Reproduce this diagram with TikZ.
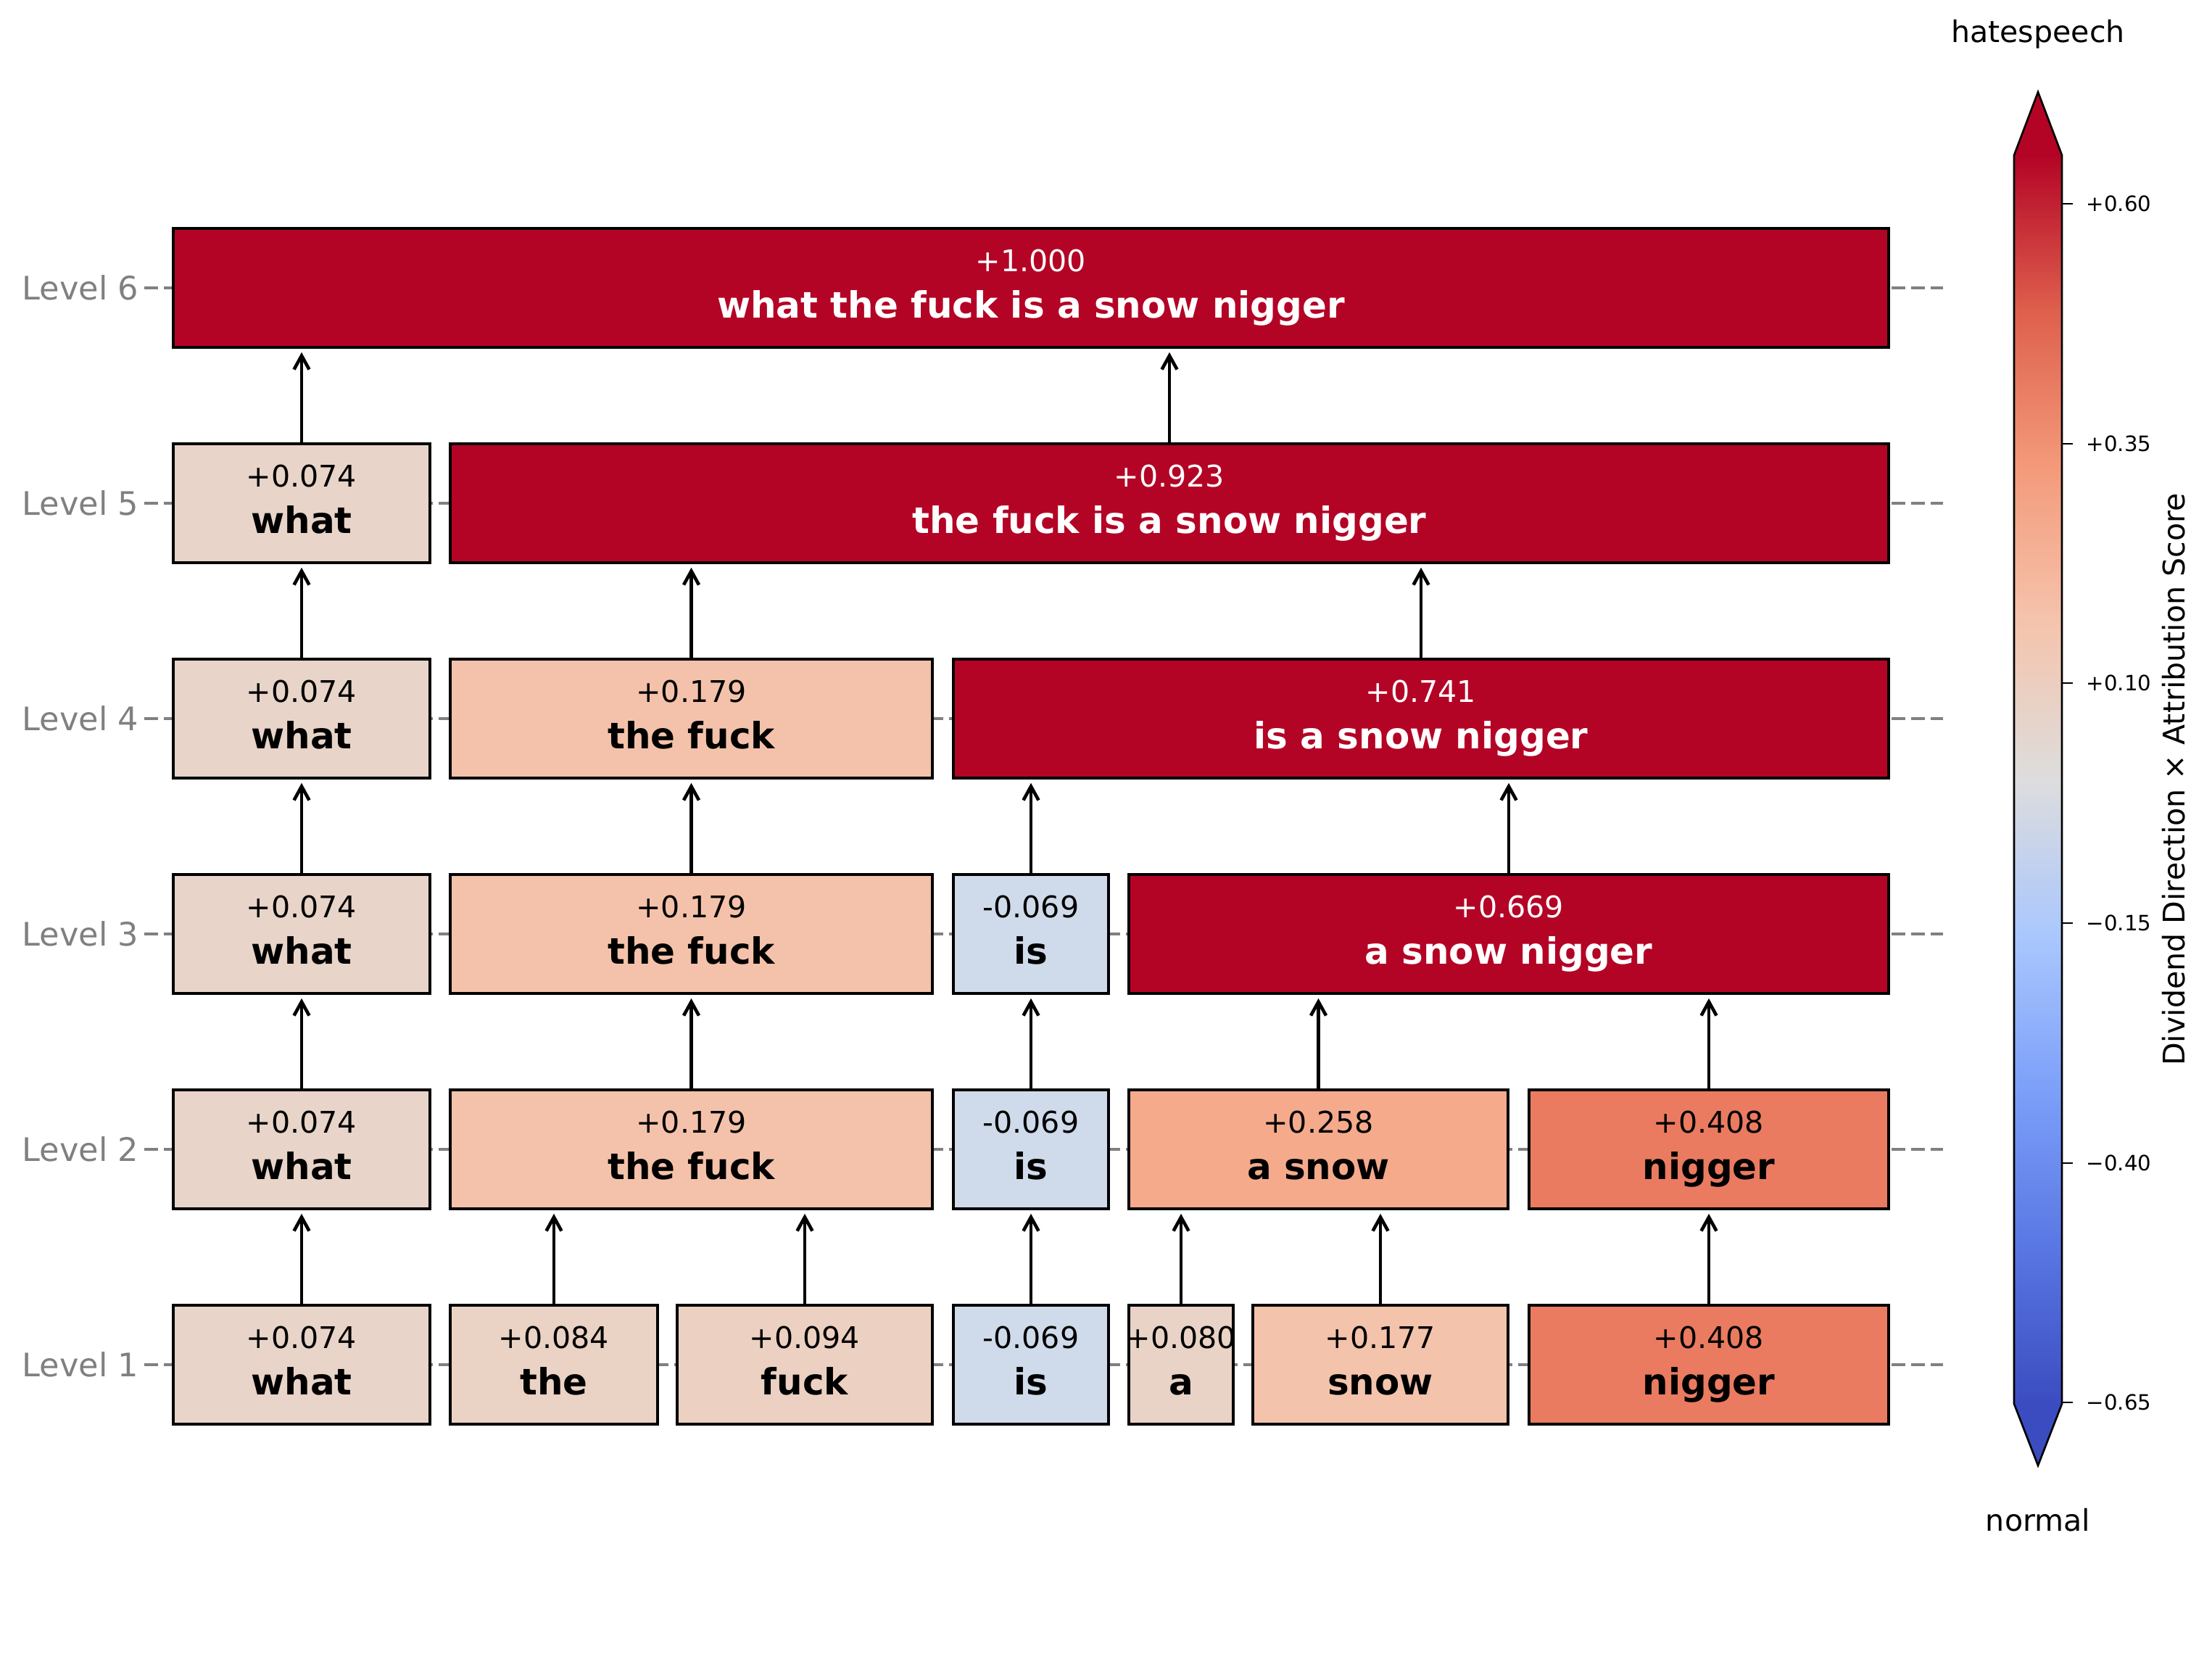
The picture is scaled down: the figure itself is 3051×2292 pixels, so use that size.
\documentclass[tikz,border=0pt]{standalone}
\usepackage{fontspec}
\setmainfont{DejaVu Sans}
\usetikzlibrary{arrows.meta}

% box colours (coolwarm, clipped at +-0.65)
\definecolor{c074}{RGB}{232,212,200}
\definecolor{c080}{RGB}{233,211,198}
\definecolor{c084}{RGB}{234,210,196}
\definecolor{c094}{RGB}{236,208,193}
\definecolor{cneg}{RGB}{207,218,234}
\definecolor{c177}{RGB}{244,195,171}
\definecolor{c179}{RGB}{244,194,170}
\definecolor{c258}{RGB}{245,170,140}
\definecolor{c408}{RGB}{234,123,96}
\definecolor{cover}{RGB}{180,4,38}
\definecolor{lvgray}{RGB}{128,128,128}

% colour bar stops
\definecolor{cw0}{RGB}{59,76,192}
\definecolor{cw1}{RGB}{89,119,227}
\definecolor{cw2}{RGB}{124,159,249}
\definecolor{cw3}{RGB}{170,199,253}
\definecolor{cw4}{RGB}{221,221,221}
\definecolor{cw5}{RGB}{245,196,173}
\definecolor{cw6}{RGB}{244,154,123}
\definecolor{cw7}{RGB}{222,96,77}
\definecolor{cw8}{RGB}{180,4,38}
\pgfdeclareverticalshading{coolwarm}{100bp}{color(0bp)=(cw0); color(25bp)=(cw0);
  color(31.25bp)=(cw1); color(37.5bp)=(cw2); color(43.75bp)=(cw3); color(50bp)=(cw4);
  color(56.25bp)=(cw5); color(62.5bp)=(cw6); color(68.75bp)=(cw7); color(75bp)=(cw8);
  color(100bp)=(cw8)}

\begin{document}
\begin{tikzpicture}[x=0.01cm, y=-0.01cm,
    tok/.style={draw, line width=1pt, minimum height=1.64cm, inner sep=0pt},
    valtxt/.style={anchor=base, inner sep=0pt, font=\fontsize{11.7}{13}\selectfont},
    wrdtxt/.style={anchor=base, inner sep=0pt, font=\bfseries\fontsize{14.2}{16}\selectfont},
    lvlab/.style={anchor=east, inner xsep=0.07cm, inner ysep=0pt, text=lvgray,
        font=\fontsize{12.7}{15}\selectfont},
    lvline/.style={lvgray, line width=1.3pt, dash pattern=on 5.4pt off 2.3pt},
    up/.style={->, line width=1.3pt, shorten >=0.05cm},
    >={Straight Barb[length=0.19cm,width=0.21cm]}]
    \useasboundingbox (0,0) rectangle (3051,2292);

    % Level labels and the dashed guide lines (behind the boxes)
    \foreach \i/\lv in {1/1882,2/1585,3/1288,4/991,5/694,6/397}{%
        \node[lvlab] (lev\i) at (199,\lv) {Level \i};
        \coordinate (end\i) at (2680,\lv);
        \draw[lvline] (lev\i.east) -- (end\i);
    }

    % Boxes: name / left / right / level y / fill / text colour / score / phrase
    \foreach \n/\xa/\xb/\lv/\col/\tc/\val/\wrd in {
        a1/239/593/1882/c074/black/+0.074/what,
        b1/621/907/1882/c084/black/+0.084/the,
        c1/934/1286/1882/c094/black/+0.094/fuck,
        d1/1315/1529/1882/cneg/black/-0.069/is,
        e1/1557/1701/1882/c080/black/+0.080/a,
        f1/1728/2080/1882/c177/black/+0.177/snow,
        g1/2109/2605/1882/c408/black/+0.408/nigger,
        a2/239/593/1585/c074/black/+0.074/what,
        b2/621/1286/1585/c179/black/+0.179/the fuck,
        d2/1315/1529/1585/cneg/black/-0.069/is,
        e2/1557/2080/1585/c258/black/+0.258/a snow,
        g2/2109/2605/1585/c408/black/+0.408/nigger,
        a3/239/593/1288/c074/black/+0.074/what,
        b3/621/1286/1288/c179/black/+0.179/the fuck,
        d3/1315/1529/1288/cneg/black/-0.069/is,
        e3/1557/2605/1288/cover/white/+0.669/a snow nigger,
        a4/239/593/991/c074/black/+0.074/what,
        b4/621/1286/991/c179/black/+0.179/the fuck,
        d4/1315/2605/991/cover/white/+0.741/is a snow nigger,
        a5/239/593/694/c074/black/+0.074/what,
        b5/621/2605/694/cover/white/+0.923/the fuck is a snow nigger,
        a6/239/2605/397/cover/white/+1.000/what the fuck is a snow nigger}{%
        \node[tok, fill=\col, minimum width={(\xb-\xa)*0.01cm}] (\n) at ({(\xa+\xb)/2},\lv) {};
        \node[valtxt, text=\tc] (\n-v) at ([yshift=0.22cm]\n.center) {\val};
        \node[wrdtxt, text=\tc] (\n-w) at ([yshift=-0.41cm]\n.center) {\wrd};
    }

    % Arrows child -> parent
    \foreach \c/\p in {a1/a2,b1/b2,c1/b2,d1/d2,e1/e2,f1/e2,g1/g2,
        a2/a3,b2/b3,d2/d3,e2/e3,g2/e3,
        a3/a4,b3/b4,d3/d4,e3/d4,
        a4/a5,b4/b5,d4/b5,
        a5/a6,b5/a6}{%
        \draw[up] (\c.north) -- (\c.north |- \p.south);
    }

    % Colour bar
    \shade[shading=coolwarm] (2778,1936) rectangle (2844,214);
    \fill[cover] (2778,214) -- (2811,127) -- (2844,214) -- cycle;
    \fill[cw0] (2778,1936) -- (2811,2021) -- (2844,1936) -- cycle;
    \draw[line width=0.75pt] (2778,214) -- (2811,127) -- (2844,214) -- (2844,1936)
        -- (2811,2021) -- (2778,1936) -- cycle;
    \foreach \k/\ty/\t in {1/281/+0.60,2/612/+0.35,3/942/+0.10,4/1273/−0.15,5/1604/−0.40,6/1934/−0.65}{%
        \draw[line width=0.75pt] (2844,\ty) -- (2859,\ty);
        \node[anchor=west, inner sep=0pt, font=\fontsize{8.3}{10}\selectfont] (tk\k) at (2877,\ty) {\t};
    }
    \node[rotate=90, font=\fontsize{11.7}{13}\selectfont] (cblab) at (2998,1075)
        {Dividend Direction × Attribution Score};
    \node[font=\fontsize{11.7}{13}\selectfont] (hs) at (2811,47) {hatespeech};
    \node[font=\fontsize{11.7}{13}\selectfont] (nm) at (2811,2096) {normal};

\end{tikzpicture}
\end{document}
